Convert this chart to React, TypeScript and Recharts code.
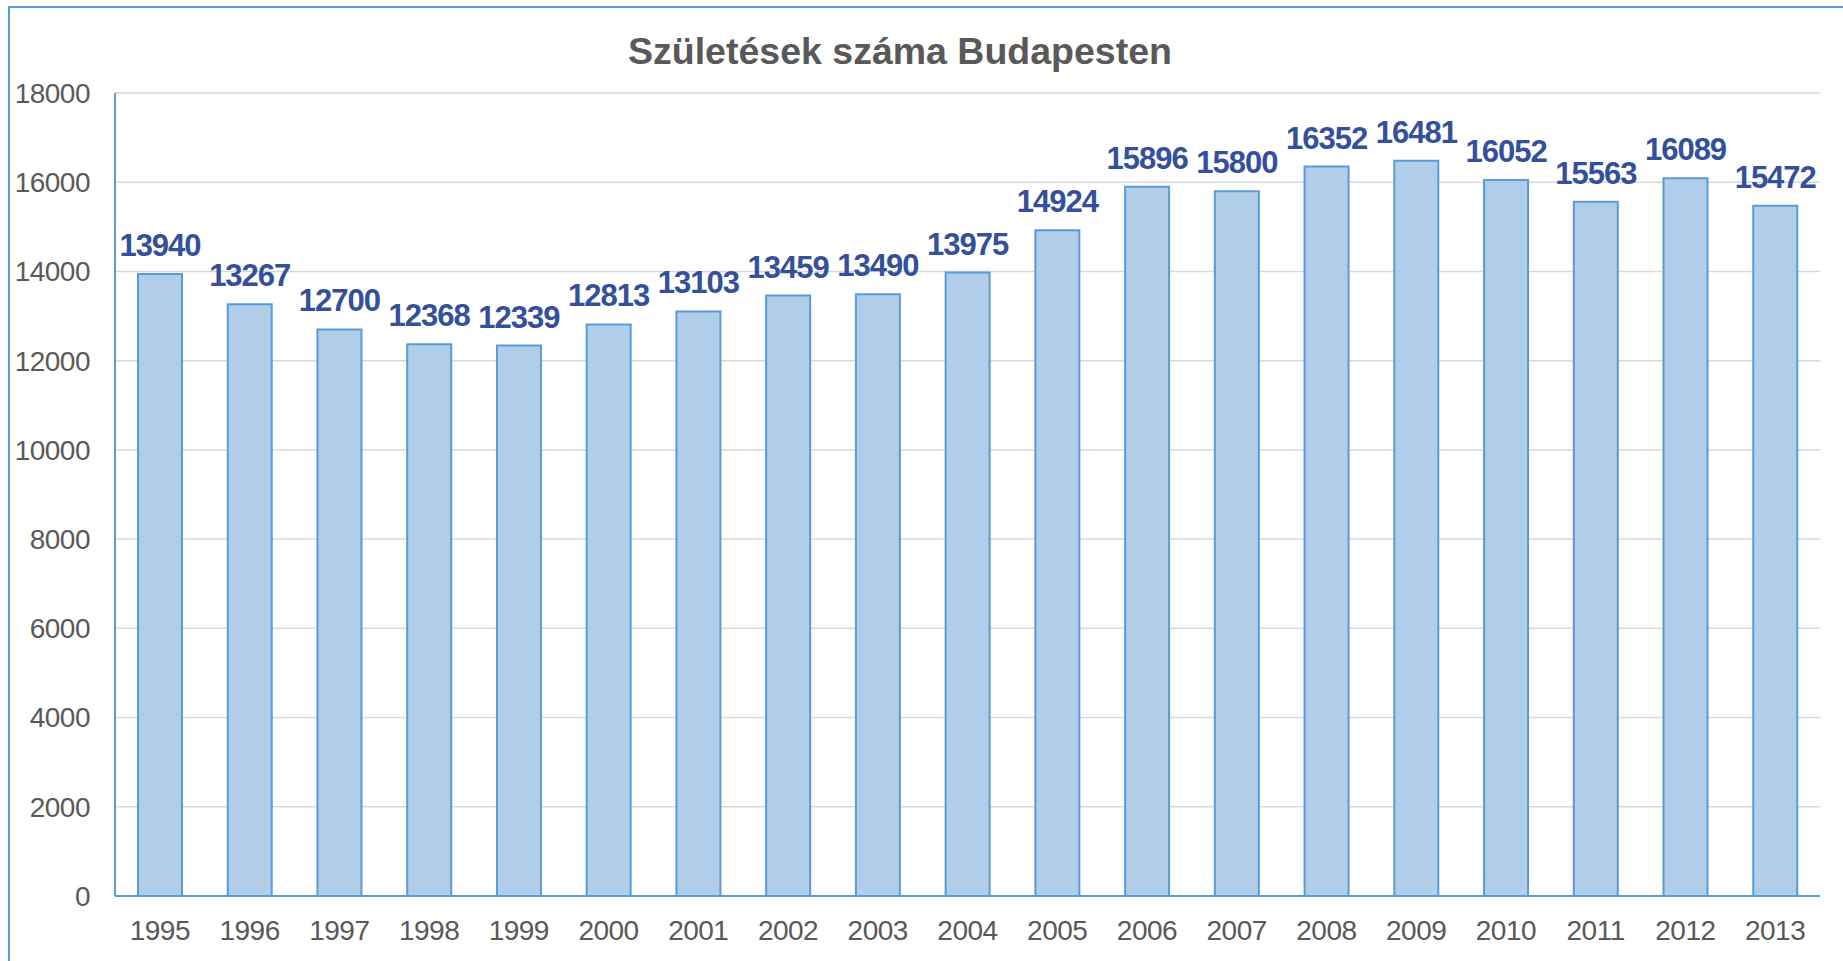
import { BarChart, Bar, XAxis, YAxis, CartesianGrid, LabelList } from "recharts";

const EVEK = ["1995", "1996", "1997", "1998", "1999", "2000", "2001", "2002", "2003", "2004", "2005", "2006", "2007", "2008", "2009", "2010", "2011", "2012", "2013"];
const SZULETESEK = [13940, 13267, 12700, 12368, 12339, 12813, 13103, 13459, 13490, 13975, 14924, 15896, 15800, 16352, 16481, 16052, 15563, 16089, 15472];
const Y_TICKS = [0, 2000, 4000, 6000, 8000, 10000, 12000, 14000, 16000, 18000];

const FONT = "'Liberation Sans', Arial, sans-serif";
const KEK = "#5B9BD5";

const data = EVEK.map((ev, i) => ({ ev, szam: SZULETESEK[i] }));

export default function App() {
  return (
    <div style={{ position: "relative", width: 1843, height: 961, overflow: "hidden", background: "#fff" }}>
      <style>{`body{margin:0;overflow:hidden}`}</style>
      {/* keret, jobb és alsó széle kilóg a képből */}
      <div style={{ position: "absolute", left: 8, top: 6, width: 2000, height: 1100, border: `2px solid ${KEK}` }} />
      <div
        style={{
          position: "absolute", left: 0, top: 33, width: 1800, textAlign: "center",
          fontFamily: FONT, fontWeight: "bold", fontSize: 37.5, lineHeight: 1, color: "#595959",
        }}
      >
        Születések száma Budapesten
      </div>
      <div style={{ position: "absolute", left: 0, top: 0 }}>
        <BarChart width={1843} height={961} data={data} margin={{ top: 93, right: 23, bottom: 35, left: 0 }}>
          <CartesianGrid vertical={false} stroke="#D9D9D9" strokeWidth={1.5} />
          <XAxis
            dataKey="ev"
            height={30}
            axisLine={{ stroke: KEK, strokeWidth: 2 }}
            tickLine={false}
            tickSize={0}
            tickMargin={24}
            tick={{ fontSize: 28, fill: "#595959", fontFamily: FONT, letterSpacing: -0.5 }}
            interval={0}
          />
          <YAxis
            width={115}
            domain={[0, 18000]}
            ticks={Y_TICKS}
            axisLine={{ stroke: KEK, strokeWidth: 2 }}
            tickLine={false}
            tickSize={0}
            tickMargin={25}
            tick={{ fontSize: 28, fill: "#595959", fontFamily: FONT, letterSpacing: -0.5 }}
          />
          <Bar dataKey="szam" fill="#B0CDEA" stroke={KEK} strokeWidth={2} barSize={44} isAnimationActive={false}>
            <LabelList
              dataKey="szam"
              position="top"
              offset={18}
              style={{ fontSize: 31, fontWeight: "bold", fill: "#34509A", fontFamily: FONT, letterSpacing: -1 }}
            />
          </Bar>
        </BarChart>
      </div>
    </div>
  );
}
